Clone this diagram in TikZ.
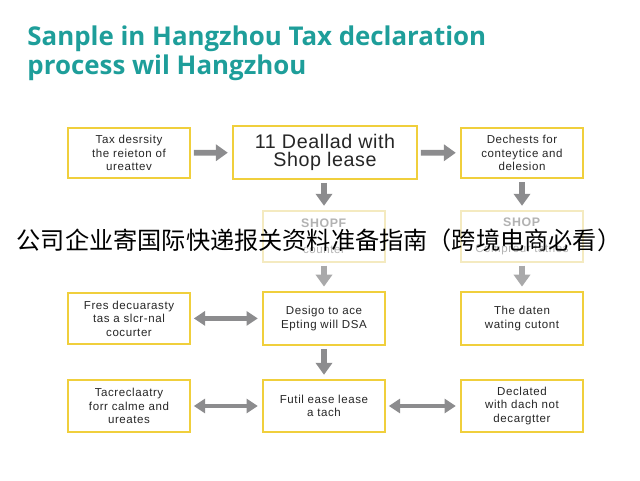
\documentclass[tikz,border=0pt]{standalone}
\usepackage{fontspec}
\setmainfont{Liberation Sans}
\newfontfamily\titlefont{Open Sans}
\newfontfamily\cjkfont{Noto Sans CJK SC}
\newfontfamily\boxfont[LetterSpace=5]{Liberation Sans}
\newfontfamily\bigboxfont[LetterSpace=3]{Liberation Sans}
\usetikzlibrary{arrows.meta}

\definecolor{titleteal}{RGB}{30,158,154}
\definecolor{boxyellow}{RGB}{240,207,60}
\definecolor{paleyellow}{RGB}{244,234,192}
\definecolor{arrowgray}{RGB}{140,140,142}

\begin{document}
\begin{tikzpicture}[every text node part/.style={align=center},
    box/.style={draw=boxyellow, fill=white, line width=1.4pt, minimum width=3.05cm, minimum height=1.27cm,
      inner sep=1pt, text=black!85, font=\boxfont\fontsize{8.2}{9.6}\selectfont},
    bigbox/.style={box, minimum width=4.6cm, minimum height=1.33cm, font=\bigboxfont\fontsize{14}{13.4}\selectfont},
    palebox/.style={box, draw=paleyellow, text=black!30},
    titlestyle/.style={anchor=base west, inner sep=0pt, text=titleteal, font=\titlefont\bfseries\fontsize{18.4}{20}\selectfont},
    arr/.style={draw=arrowgray, line width=4pt, -{Triangle[width=11.5pt,length=8.5pt]}, shorten <=2pt, shorten >=3pt},
    dblarr/.style={arr, {Triangle[width=10pt,length=8pt]}-{Triangle[width=10pt,length=8pt]}, line width=3.4pt},
    palearr/.style={arr, draw=arrowgray!75}]

    \useasboundingbox (0,0) rectangle (16,12);

    % --------------------------------------------------------- %
    % ------------- title
    % --------------------------------------------------------- %
    \node[titlestyle] (title1) at (0.68,10.85) {Sanple in Hangzhou Tax declaration};
    \node[titlestyle] (title2) at (0.68,10.13) {process wil Hangzhou};

    % --------------------------------------------------------- %
    % ------------ first row
    % --------------------------------------------------------- %
    \node[box] (desrsity) at (3.225,8.175) {Tax desrsity\\the reieton of\\ureattev};
    \node[bigbox] (deallad) at (8.125,8.19) {11 Deallad with\\Shop lease};
    \node[box] (dechests) at (13.05,8.175) {Dechests for\\conteytice and\\delesion};
    \draw[arr] (desrsity) -- (deallad);
    \draw[arr] (deallad) -- (dechests);

    % --------------------------------------------------------- %
    % ------------ faded row
    % --------------------------------------------------------- %
    \node[palebox] (shopf) at (8.1,6.09) {\textbf{\fontsize{8.8}{9}\selectfont SHOPF}\\[9pt]counter};
    \node[palebox] (shop) at (13.05,6.09) {\textbf{\fontsize{8.8}{9}\selectfont SHOP}\\[9pt]Comprour tatnes};
    \draw[arr] (deallad.south -| shopf) -- (shopf);
    \draw[arr] (dechests) -- (shop);

    % --------------------------------------------------------- %
    % ------------ second row
    % --------------------------------------------------------- %
    \node[box] (declarasty) at (3.225,4.04) {Fres decuarasty\\tas a slcr-nal\\cocurter};
    \node[box, minimum height=1.33cm] (design) at (8.1,4.04) {Desigo to ace\\Epting will DSA};
    \node[box, minimum height=1.33cm] (daten) at (13.05,4.04) {The daten\\wating cutont};
    \draw[palearr] (shopf) -- (design);
    \draw[palearr] (shop) -- (daten);
    \draw[dblarr] (declarasty) -- (design);

    % --------------------------------------------------------- %
    % ------------ third row
    % --------------------------------------------------------- %
    \node[box, minimum height=1.3cm] (reclaatry) at (3.225,1.85) {Tacreclaatry\\forr calme and\\ureates};
    \node[box, minimum height=1.3cm] (futil) at (8.1,1.85) {Futil ease lease\\a tach};
    \node[box, minimum height=1.3cm] (declated) at (13.05,1.85) {Declated\\with dach not\\decargtter};
    \draw[arr] (design) -- (futil);
    \draw[dblarr] (reclaatry) -- (futil);
    \draw[dblarr] (futil) -- (declated);

    % --------------------------------------------------------- %
    % ------------ overlay text
    % --------------------------------------------------------- %
    \node[inner sep=0pt, font=\cjkfont\fontsize{17.2}{17.2}\selectfont] (guide) at (7.975,5.98)
      {公司企业寄国际快递报关资料准备指南（跨境电商必看）};

\end{tikzpicture}
\end{document}
